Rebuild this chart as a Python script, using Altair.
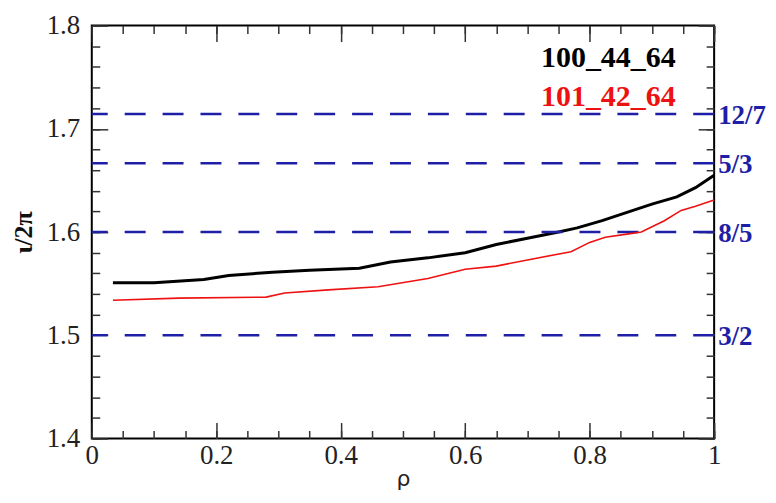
import altair as alt
import pandas as pd

# ---- data ----
rho_black = [0.034, 0.10, 0.18, 0.22, 0.29, 0.35, 0.43, 0.48, 0.54, 0.60,
             0.65, 0.70, 0.75, 0.78, 0.82, 0.86, 0.90, 0.94, 0.97, 1.00]
iota_black = [1.551, 1.551, 1.554, 1.558, 1.561, 1.563, 1.565, 1.571, 1.575, 1.580,
              1.588, 1.594, 1.600, 1.604, 1.611, 1.619, 1.627, 1.634, 1.643, 1.655]
rho_red = [0.034, 0.14, 0.28, 0.31, 0.38, 0.46, 0.54, 0.60, 0.65, 0.70,
           0.77, 0.80, 0.825, 0.86, 0.883, 0.92, 0.947, 0.97, 1.00]
iota_red = [1.534, 1.536, 1.537, 1.541, 1.544, 1.547, 1.555, 1.564, 1.567, 1.573,
            1.581, 1.590, 1.595, 1.598, 1.600, 1.611, 1.621, 1.625, 1.631]
series_names = ["100_44_64", "101_42_64"]
series_colors = ["#000000", "#ee1111"]

res_values = [12 / 7, 5 / 3, 8 / 5, 3 / 2]
res_labels = ["12/7", "5/3", "8/5", "3/2"]

x_major = [0, 0.2, 0.4, 0.6, 0.8, 1.0]
x_minor = [round(i * 0.05, 2) for i in range(21)]
y_major = [1.4, 1.5, 1.6, 1.7, 1.8]
y_minor = [round(1.4 + i * 0.02, 2) for i in range(21)]

black_df = pd.DataFrame({"rho": rho_black, "iota": iota_black})
red_df = pd.DataFrame({"rho": rho_red, "iota": iota_red})
res_df = pd.DataFrame({"val": res_values, "label": res_labels})

W, H = 624, 414
SERIF = "Liberation Serif"
BLUE = "#1e1ea6"
TICK = "#333333"

xscale = alt.Scale(domain=[0, 1], nice=False, zero=False)
yscale = alt.Scale(domain=[1.4, 1.8], nice=False, zero=False)


def ax(orient, values, size, labels=False, title=None, **kw):
    return alt.Axis(orient=orient, values=values, tickSize=size, offset=-size,
                    domain=False, grid=False, labels=labels, title=title,
                    tickColor=TICK, tickWidth=1.5, **kw)


black = alt.Chart(black_df).mark_line(strokeWidth=3, color=series_colors[0]).encode(
    x=alt.X("rho:Q", scale=xscale,
            axis=ax("bottom", x_major, 16, labels=True, title="ρ",
                    labelFont=SERIF, labelFontSize=27, labelColor="#222", labelPadding=4,
                    labelFlush=False, format="g",
                    titleFont="DejaVu Sans", titleFontSize=22, titleFontWeight="normal",
                    titleColor="#222", titlePadding=0)),
    y=alt.Y("iota:Q", scale=yscale,
            axis=ax("left", y_major, 16, labels=True, title="ι/2π",
                    labelFont=SERIF, labelFontSize=27, labelColor="#222", labelPadding=12,
                    labelFlush=False, format=".1f",
                    titleFont=SERIF, titleFontSize=26, titleFontWeight="bold",
                    titleColor="#111", titlePadding=10)),
)

red = alt.Chart(red_df).mark_line(strokeWidth=1.6, color=series_colors[1]).encode(
    x=alt.X("rho:Q", scale=xscale, axis=None),
    y=alt.Y("iota:Q", scale=yscale, axis=None),
)


def ghost(xo, xv, xs, yo, yv, ys):
    return alt.Chart(black_df).mark_line(opacity=0).encode(
        x=alt.X("rho:Q", scale=xscale, axis=ax(xo, xv, xs)),
        y=alt.Y("iota:Q", scale=yscale, axis=ax(yo, yv, ys)),
    )


g1 = ghost("bottom", x_minor, 8, "left", y_minor, 8)
g2 = ghost("top", x_major, 16, "right", y_major, 16)
g3 = ghost("top", x_minor, 8, "right", y_minor, 8)

rules = alt.Chart(res_df).mark_rule(color=BLUE, strokeWidth=2.5, strokeDash=[21, 17]).encode(
    y=alt.Y("val:Q", scale=yscale, axis=None)
)

res_text = alt.Chart(res_df).mark_text(
    align="left", baseline="middle", dx=4, dy=2, font=SERIF, fontSize=27,
    fontWeight="bold", color=BLUE
).encode(
    x=alt.X(datum=1, scale=xscale, axis=None),
    y=alt.Y("val:Q", scale=yscale, axis=None),
    text="label:N",
)

# series name annotations (positions in data units)
leg_layers = []
for name, col, lx, ly in [(series_names[0], series_colors[0], 0.83, 1.769),
                          (series_names[1], series_colors[1], 0.83, 1.731)]:
    leg_layers.append(
        alt.Chart(pd.DataFrame({"t": [name]})).mark_text(
            align="center", baseline="middle", font=SERIF, fontSize=30,
            fontWeight="bold", color=col
        ).encode(
            x=alt.X(datum=lx, scale=xscale, axis=None),
            y=alt.Y(datum=ly, scale=yscale, axis=None),
            text="t:N",
        )
    )

chart = alt.layer(black, g1, g2, g3, rules, red, res_text, *leg_layers).resolve_axis(
    x="independent", y="independent"
).properties(
    width=W, height=H,
    autosize=alt.AutoSizeParams(type="none"),
    padding={"left": 84, "top": 17, "right": 54, "bottom": 56},
).configure(background="white", font=SERIF).configure_view(stroke="#000", strokeWidth=2)

chart.save("out.html", embed_options={"renderer": "svg", "actions": False})
